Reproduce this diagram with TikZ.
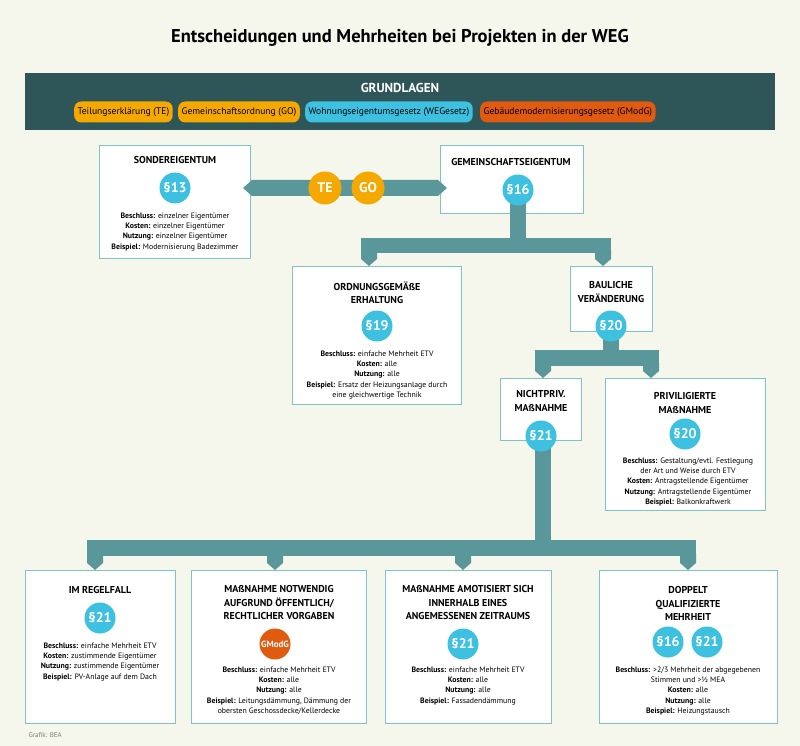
\documentclass[tikz,border=0pt]{standalone}
\usepackage{fontspec}
\setmainfont{PT Sans}
\begin{document}
\begin{tikzpicture}[x=1pt,y=-1pt,
  box/.style={draw=boxb,line width=1pt,fill=white},
  bar/.style={fill=barc},
  circ/.style={circle,minimum size=31pt,inner sep=0pt,font=\bfseries\fontsize{14}{14}\selectfont,text=white},
  pill/.style={rounded corners=7pt,minimum height=21pt,inner sep=3.5pt,font=\fontsize{9.6}{10}\selectfont,text=black,anchor=west},
  ttl/.style={font=\bfseries\fontsize{10}{13.5}\selectfont,align=center,anchor=north},
  txt/.style={font=\fontsize{7.8}{10.4}\selectfont,align=center,anchor=north}]
\definecolor{bg}{HTML}{F5F7EC}
\definecolor{dark}{HTML}{2E5557}
\definecolor{barc}{HTML}{5A979B}
\definecolor{boxb}{HTML}{7FC3C6}
\definecolor{blu}{HTML}{3EC1E0}
\definecolor{yel}{HTML}{F5A800}
\definecolor{ora}{HTML}{E05A10}
\newcommand\vstub[3]{\fill[bar] (#1-8,#2)--(#1+8,#2)--(#1+8,#3-7)--(#1,#3)--(#1-8,#3-7)--cycle;}
\fill[bg] (0,0) rectangle (800,746);
\useasboundingbox (0,0) rectangle (800,746);
\node[font=\bfseries\fontsize{18.5}{18}\selectfont] (title) at (400,38) {Entscheidungen und Mehrheiten bei Projekten in der WEG};
% banner
\fill[dark] (25,73) rectangle (775,130);
\node[text=white,font=\bfseries\fontsize{13}{13}\selectfont] (grund) at (400,88) {GRUNDLAGEN};
\node[pill,fill=yel] (pTE) at (74,112) {Teilungserklärung (TE)};
\node[pill,fill=yel] (pGO) at ([xshift=5pt]pTE.east) {Gemeinschaftsordnung (GO)};
\node[pill,fill=blu] (pWEG) at ([xshift=5pt]pGO.east) {Wohnungseigentumsgesetz (WEGesetz)};
\node[pill,fill=ora] (pGM) at ([xshift=7pt]pWEG.east) {Gebäudemodernisierungsgesetz (GModG)};
% boxes
\draw[box] (99,146) rectangle (250,258);
\node[ttl] (tS) at (175,153) {SONDEREIGENTUM};
\node[txt] (xS) at (175,209) {\textbf{Beschluss:} einzelner Eigentümer\\\textbf{Kosten:} einzelner Eigentümer\\\textbf{Nutzung:} einzelner Eigentümer\\\textbf{Beispiel:} Modernisierung Badezimmer};
\draw[box] (440,146) rectangle (583,213);
\node[ttl] (tG) at (511,155) {GEMEINSCHAFTSEIGENTUM};
\draw[box] (292,266) rectangle (461,404);
\node[ttl] (tO) at (377,278) {ORDNUNGSGEMÄßE\\ERHALTUNG};
\node[txt] (xO) at (377,347) {\textbf{Beschluss:} einfache Mehrheit ETV\\\textbf{Kosten:} alle\\\textbf{Nutzung:} alle\\\textbf{Beispiel:} Ersatz der Heizungsanlage durch\\eine gleichwertige Technik};
\draw[box] (570,266) rectangle (652,331);
\node[ttl] (tB) at (611,278) {BAULICHE\\VERÄNDERUNG};
\draw[box] (500,378) rectangle (581,440);
\node[ttl] (tN) at (541,387) {NICHTPRIV.\\MAßNAHME};
\draw[box] (605,378) rectangle (765,510);
\node[ttl] (tP) at (685,389) {PRIVILIGIERTE\\MAßNAHME};
\node[txt] (xP) at (688,454) {\textbf{Beschluss:} Gestaltung/evtl. Festlegung\\der Art und Weise durch ETV\\\textbf{Kosten:} Antragstellende Eigentümer\\\textbf{Nutzung:} Antragstellende Eigentümer\\\textbf{Beispiel:} Balkonkraftwerk};
\draw[box] (25,570) rectangle (175,723);
\node[ttl] (tA) at (100,583) {IM REGELFALL};
\node[txt] (xA) at (100,639) {\textbf{Beschluss:} einfache Mehrheit ETV\\\textbf{Kosten:} zustimmende Eigentümer\\\textbf{Nutzung:} zustimmende Eigentümer\\\textbf{Beispiel:} PV-Anlage auf dem Dach};
\draw[box] (191,570) rectangle (366,723);
\node[ttl] (tBB) at (279,582) {MAßNAHME NOTWENDIG\\AUFGRUND ÖFFENTLICH/\\RECHTLICHER VORGABEN};
\node[txt] (xBB) at (279,663) {\textbf{Beschluss:} einfache Mehrheit ETV\\\textbf{Kosten:} alle\\\textbf{Nutzung:} alle\\\textbf{Beispiel:} Leitungsdämmung, Dämmung der\\obersten Geschossdecke/Kellerdecke};
\draw[box] (385,570) rectangle (551,723);
\node[ttl] (tC) at (468,582) {MAßNAHME AMOTISIERT SICH\\INNERHALB EINES\\ANGEMESSENEN ZEITRAUMS};
\node[txt] (xC) at (468,663) {\textbf{Beschluss:} einfache Mehrheit ETV\\\textbf{Kosten:} alle\\\textbf{Nutzung:} alle\\\textbf{Beispiel:} Fassadendämmung};
\draw[box] (599,570) rectangle (777,723);
\node[ttl] (tD) at (688,583) {DOPPELT\\QUALIFIZIERTE\\MEHRHEIT};
\node[txt] (xD) at (688,663) {\textbf{Beschluss:} >2/3 Mehrheit der abgegebenen\\Stimmen und >½ MEA\\\textbf{Kosten:} alle\\\textbf{Nutzung:} alle\\\textbf{Beispiel:} Heizungstausch};
% bars
\fill[bar] (243,188)--(252,180)--(438,180)--(447,188)--(438,196)--(252,196)--cycle;
\fill[bar] (510,200) rectangle (526,240);
\fill[bar] (361,238) rectangle (611,253);
\vstub{369}{250}{266}
\vstub{603}{250}{266}
\fill[bar] (603,330) rectangle (619,352);
\fill[bar] (535,350) rectangle (659,366);
\vstub{543}{363}{378}
\vstub{651}{363}{378}
\fill[bar] (535,445) rectangle (551,545);
\fill[bar] (87,540) rectangle (696,556);
\vstub{95}{553}{570}
\vstub{275}{553}{570}
\vstub{463}{553}{570}
\vstub{688}{553}{570}
% circles
\node[circ,fill=blu] (c13) at (175,188) {§13};
\node[circ,fill=yel,minimum size=33pt] (cTE) at (325,188) {TE};
\node[circ,fill=yel,minimum size=33pt] (cGO) at (368,188) {GO};
\node[circ,fill=blu] (c16) at (518,190) {§16};
\node[circ,fill=blu] (c19) at (377,326) {§19};
\node[circ,fill=blu] (c20a) at (611,326) {§20};
\node[circ,fill=blu] (c21a) at (541,436) {§21};
\node[circ,fill=blu] (c20b) at (685,434) {§20};
\node[circ,fill=blu] (c21b) at (100,618) {§21};
\node[circ,fill=ora,font=\bfseries\fontsize{9}{9}\selectfont] (cGM) at (275,644) {GModG};
\node[circ,fill=blu] (c21c) at (463,644) {§21};
\node[circ,fill=blu] (c16d) at (668,642) {§16};
\node[circ,fill=blu] (c21d) at (707,642) {§21};
\node[anchor=west,text=gray,font=\fontsize{7}{7}\selectfont] (credit) at (25,735) {Grafik: BEA};
\end{tikzpicture}
\end{document}
